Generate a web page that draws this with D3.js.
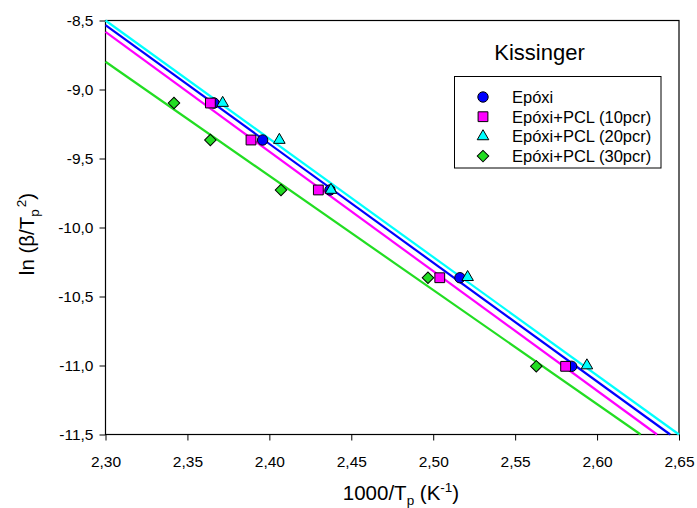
<!DOCTYPE html>
<html>
<head>
<meta charset="utf-8">
<script src="https://cdn.jsdelivr.net/npm/d3@7"></script>
<style>
  html, body { margin: 0; padding: 0; background: #fff; }
  svg { display: block; }
  text { font-family: "Liberation Sans", Arial, sans-serif; fill: #000; }
</style>
</head>
<body>
<svg id="chart" width="697" height="508"></svg>
<script>
// ---- data ----
const seriesNames = ["Epóxi", "Epóxi+PCL (10pcr)", "Epóxi+PCL (20pcr)", "Epóxi+PCL (30pcr)"];
const epoxiX   = [2.3662, 2.3959, 2.4370, 2.5163, 2.5845];
const epoxiY   = [-9.098, -9.366, -9.728, -10.364, -11.006];
const pcl10X   = [2.3640, 2.3888, 2.4299, 2.5040, 2.5808];
const pcl10Y   = [-9.098, -9.366, -9.728, -10.364, -11.006];
const pcl20X   = [2.3715, 2.4061, 2.4376, 2.5210, 2.5938];
const pcl20Y   = [-9.098, -9.366, -9.728, -10.360, -11.000];
const pcl30X   = [2.3418, 2.3640, 2.4071, 2.4968, 2.5629];
const pcl30Y   = [-9.098, -9.366, -9.728, -10.364, -11.006];
// linear fits: y at x = 2.30, and x where the fit reaches y = -11.5
const fitStartY = [-8.533, -8.583, -8.500, -8.799];
const fitEndX   = [2.6446, 2.6366, 2.6500, 2.6266];
const xTicks = [2.30, 2.35, 2.40, 2.45, 2.50, 2.55, 2.60, 2.65];
const yTicks = [-8.5, -9.0, -9.5, -10.0, -10.5, -11.0, -11.5];
const xDomain = [2.30, 2.65];
const yDomain = [-11.5, -8.5];

// ---- styles ----
const colors = ["#0000ff", "#ff00ff", "#00ffff", "#22dd22"];
const shapes = ["circle", "square", "triangle", "diamond"];

const svg = d3.select("#chart");
const L = 105.5, R = 679, T = 20.5, B = 434.5;
const x = d3.scaleLinear().domain(xDomain).range([L, R]);
const y = d3.scaleLinear().domain(yDomain).range([B, T]);
const comma = f => s => d3.format(f)(s).replace(".", ",").replace("−", "-");

// axes
const xAxis = svg.append("g").attr("transform", `translate(0,${B})`)
  .call(d3.axisBottom(x).tickValues(xTicks).tickFormat(comma(".2f")).tickSize(6).tickPadding(15).tickSizeOuter(0));
const yAxis = svg.append("g").attr("transform", `translate(${L},0)`)
  .call(d3.axisLeft(y).tickValues(yTicks).tickFormat(comma(".1f")).tickSize(6).tickPadding(6).tickSizeOuter(0));
[xAxis, yAxis].forEach(g => {
  g.select(".domain").remove();
  g.selectAll("line").attr("stroke", "#000").attr("stroke-width", 1);
  g.selectAll("text").attr("font-size", "15.5px").attr("font-family", "Liberation Sans, Arial, sans-serif").attr("fill", "#111");
});

// frame
svg.append("rect").attr("x", L).attr("y", T).attr("width", R - L).attr("height", B - T)
  .attr("fill", "none").attr("stroke", "#000").attr("stroke-width", 1.2);

// fit lines
const fits = fitStartY.map((y0, i) => ({ x1: xDomain[0], y1: y0, x2: fitEndX[i], y2: yDomain[0], c: colors[i] }));
svg.append("g").selectAll("line").data(fits).join("line")
  .attr("x1", d => x(d.x1)).attr("y1", d => y(d.y1))
  .attr("x2", d => x(d.x2)).attr("y2", d => y(d.y2))
  .attr("stroke", d => d.c).attr("stroke-width", 2.2);

// markers
function markerPath(shape) {
  if (shape === "circle") return d3.symbol(d3.symbolCircle, 85)();
  if (shape === "square") return d3.symbol(d3.symbolSquare, 96)();
  if (shape === "triangle") return d3.symbol(d3.symbolTriangle, 58)();
  return d3.symbol(d3.symbolSquare, 66)();
}
const seriesX = [epoxiX, pcl10X, pcl20X, pcl30X];
const seriesY = [epoxiY, pcl10Y, pcl20Y, pcl30Y];
seriesX.forEach((xs, i) => {
  const pts = xs.map((v, j) => ({ x: v, y: seriesY[i][j] }));
  svg.append("g").selectAll("path").data(pts).join("path")
    .attr("d", markerPath(shapes[i]))
    .attr("transform", d => `translate(${x(d.x)},${y(d.y)})` + (shapes[i] === "diamond" ? " rotate(45)" : ""))
    .attr("fill", colors[i]).attr("stroke", "#000").attr("stroke-width", 1);
});

// title
svg.append("text").attr("x", 539.5).attr("y", 60).attr("text-anchor", "middle")
  .attr("font-size", "22px").text("Kissinger");

// legend
svg.append("rect").attr("x", 454.5).attr("y", 76.5).attr("width", 206.5).attr("height", 91.5)
  .attr("fill", "#fff").attr("stroke", "#000").attr("stroke-width", 1);
seriesNames.forEach((name, i) => {
  const cy = 97 + i * 19.7;
  svg.append("path").attr("d", markerPath(shapes[i]))
    .attr("transform", `translate(483,${cy})` + (shapes[i] === "diamond" ? " rotate(45)" : ""))
    .attr("fill", colors[i]).attr("stroke", "#000").attr("stroke-width", 1);
  svg.append("text").attr("x", 512).attr("y", cy + 5.8).attr("font-size", "16.5px").text(name);
});

// x axis title
const xt = svg.append("text").attr("x", 401).attr("y", 500).attr("text-anchor", "middle").attr("font-size", "20.5px");
xt.append("tspan").text("1000/T");
xt.append("tspan").attr("font-size", "13.5px").attr("dy", 5).text("p");
xt.append("tspan").attr("dy", -5).text(" (K");
xt.append("tspan").attr("font-size", "13.5px").attr("dy", -8).text("-1");
xt.append("tspan").attr("dy", 8).text(")");

// y axis title
const yt = svg.append("text").attr("transform", "translate(34,234) rotate(-90)")
  .attr("text-anchor", "middle").attr("font-size", "20.5px");
yt.append("tspan").text("ln (β/T");
yt.append("tspan").attr("font-size", "13.5px").attr("dy", 5).text("p");
yt.append("tspan").attr("font-size", "13.5px").attr("dy", -13).attr("dx", 2).text("2");
yt.append("tspan").attr("dy", 8).text(")");
</script>
</body>
</html>
